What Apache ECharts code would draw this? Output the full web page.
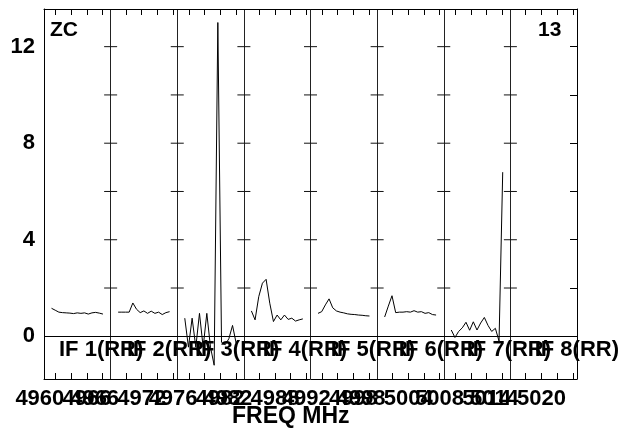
<!DOCTYPE html>
<html><head><meta charset="utf-8">
<script src="https://cdn.jsdelivr.net/npm/echarts@6/dist/echarts.min.js"></script>
<style>html,body{margin:0;padding:0;background:#fff}#c{width:621px;height:432px}</style>
</head><body><div id="c"></div>
<script>
// ---- data ----
const ifNames = ['IF 1(RR)','IF 2(RR)','IF 3(RR)','IF 4(RR)','IF 5(RR)','IF 6(RR)','IF 7(RR)','IF 8(RR)'];
const ifStartFreq = [4960.53, 4968.04, 4976.53, 4984.04, 4992.53, 5000.04, 5008.53, 5016.04]; // MHz at panel left edge
const panelBandwidth = 8.5;      // MHz per panel
const chanFirstOffset = 0.96;    // MHz from panel edge to first channel
const chanWidth = 0.46875;       // MHz channel spacing
const ifLabelFreqs = [[4960,4966],[4966,4972],[4976,4982],[4982,4988],[4992,4998],[4998,5004],[5008,5014],[5014,5020]];
const freqTickStep = 2;          // MHz
const yLabelValues = [0, 4, 8, 12];
const yMinorValues = [2, 4, 6, 8, 10, 12];
const yMin = -1.77, yMax = 13.56;
const if1 = [1.16, 1.08, 1.00, 0.98, 0.97, 0.96, 0.94, 0.97, 0.95, 0.97, 0.92, 0.97, 0.99, 0.96, 0.92];
const if2 = [1.00, 1.00, 1.00, 1.00, 1.38, 1.12, 0.98, 1.05, 0.95, 1.04, 0.95, 1.00, 0.90, 0.98, 1.02];
const if3 = [0.75, -0.45, 0.75, -0.45, 0.95, -0.45, 0.95, -0.45, -1.20, 13.00, -0.25, -0.35, -0.10, 0.45, -0.30];
const if4 = [1.05, 0.68, 1.64, 2.20, 2.36, 1.37, 0.61, 0.88, 0.68, 0.88, 0.70, 0.75, 0.63, 0.68, 0.72];
const if5 = [0.95, 1.02, 1.30, 1.55, 1.18, 1.05, 1.00, 0.97, 0.93, 0.91, 0.90, 0.88, 0.87, 0.85, 0.84];
const if6 = [0.80, 1.25, 1.68, 0.98, 1.00, 1.00, 1.02, 1.00, 1.06, 1.00, 1.02, 0.95, 0.98, 0.90, 0.88];
const if7 = [0.26, -0.05, 0.20, 0.35, 0.58, 0.25, 0.60, 0.26, 0.55, 0.78, 0.45, 0.20, 0.33, -0.20, 6.80];
const if8 = [];
const ifData = [if1, if2, if3, if4, if5, if6, if7, if8];
const cornerLeft = 'ZC', cornerRight = '13', xTitle = 'FREQ MHz';

// ---- build ----
const FONT = '"Liberation Sans", Arial, sans-serif';
const nP = ifNames.length;
const toX = (p, f) => p + (f - ifStartFreq[p]) / panelBandwidth;

const tickVals = [];
for (let p = 0; p < nP; p++) {
  const f0 = Math.ceil(ifStartFreq[p] / freqTickStep) * freqTickStep;
  for (let f = f0; f < ifStartFreq[p] + panelBandwidth; f += freqTickStep) tickVals.push(toX(p, f));
}
const freqLabelPts = [];
ifLabelFreqs.forEach((arr, p) => arr.forEach(f => freqLabelPts.push({value: [toX(p, f), yMin], name: String(f)})));

const series = [];
ifData.forEach((vals, p) => {
  if (!vals.length) return;
  series.push({
    type: 'line', xAxisIndex: 0, yAxisIndex: 0, symbol: 'none', silent: true,
    lineStyle: {color: '#000', width: 1},
    data: vals.map((v, j) => [toX(p, ifStartFreq[p] + chanFirstOffset + j * chanWidth), v])
  });
});
// divider crosses + zero line
const crossPts = [];
for (let d = 1; d < nP; d++) yMinorValues.forEach(y => crossPts.push([d, y]));
series.push({
  type: 'scatter', symbol: 'rect', symbolSize: [13, 1], silent: true,
  itemStyle: {color: '#111', opacity: 1}, data: crossPts,
  markLine: {silent: true, symbol: 'none', label: {show: false},
    lineStyle: {color: '#000', width: 1, type: 'solid', opacity: 1}, data: [{yAxis: 0}]}
});
const txtLabel = {show: true, formatter: '{b}', color: '#000', opacity: 1,
  fontFamily: FONT, fontWeight: 'bold', fontSize: 22};
// IF labels
series.push({
  type: 'scatter', symbolSize: 0, silent: true, clip: false, itemStyle: {opacity: 1},
  data: ifNames.map((n, p) => ({value: [p + 0.225 + 0.02 * p, -0.55], name: n})),
  label: Object.assign({}, txtLabel, {position: 'right', distance: 0})
});
// freq tick labels
series.push({
  type: 'scatter', symbolSize: 0, silent: true, clip: false, itemStyle: {opacity: 1},
  data: freqLabelPts,
  label: Object.assign({}, txtLabel, {position: 'bottom', distance: 9})
});

const chart = echarts.init(document.getElementById('c'), null, {renderer: 'canvas'});
chart.setOption({
  animation: false,
  backgroundColor: '#fff',
  grid: {left: 44, top: 9, width: 533, height: 370},
  xAxis: [
    {type: 'value', min: 0, max: nP, position: 'bottom',
     axisLine: {show: true, onZero: false, lineStyle: {color: '#000', width: 1}},
     axisTick: {show: true, inside: true, length: 6, customValues: tickVals, lineStyle: {color: '#000'}},
     axisLabel: {show: false}, splitLine: {show: false}},
    {type: 'value', min: 0, max: nP, position: 'top',
     axisLine: {show: true, onZero: false, lineStyle: {color: '#000', width: 1}},
     axisTick: {show: true, inside: true, length: 6, customValues: tickVals, lineStyle: {color: '#000'}},
     axisLabel: {show: false}, splitLine: {show: false}},
    {type: 'value', min: 0, max: nP, interval: 1, position: 'bottom',
     axisLine: {show: false}, axisTick: {show: false}, axisLabel: {show: false},
     splitLine: {show: true, lineStyle: {color: '#222', width: 1}}}
  ],
  yAxis: [
    {type: 'value', min: yMin, max: yMax, position: 'left',
     axisLine: {show: true, onZero: false, lineStyle: {color: '#000', width: 1}},
     axisTick: {show: false},
     axisLabel: {show: true, customValues: yLabelValues, margin: 9, color: '#000',
       fontFamily: FONT, fontWeight: 'bold', fontSize: 22},
     splitLine: {show: false}},
    {type: 'value', min: yMin, max: yMax, position: 'right',
     axisLine: {show: true, onZero: false, lineStyle: {color: '#000', width: 1}},
     axisTick: {show: true, inside: true, length: 7, customValues: yMinorValues, lineStyle: {color: '#000'}},
     axisLabel: {show: false}, splitLine: {show: false}}
  ],
  graphic: [
    {type: 'text', left: 50, top: 20, style: {text: cornerLeft, fill: '#000', font: 'bold 21px ' + FONT}},
    {type: 'text', left: 538, top: 20, style: {text: cornerRight, fill: '#000', font: 'bold 21px ' + FONT}},
    {type: 'text', left: 232, top: 405, style: {text: xTitle, fill: '#000', font: 'bold 23px ' + FONT}}
  ],
  series: series
});
</script>
</body></html>
